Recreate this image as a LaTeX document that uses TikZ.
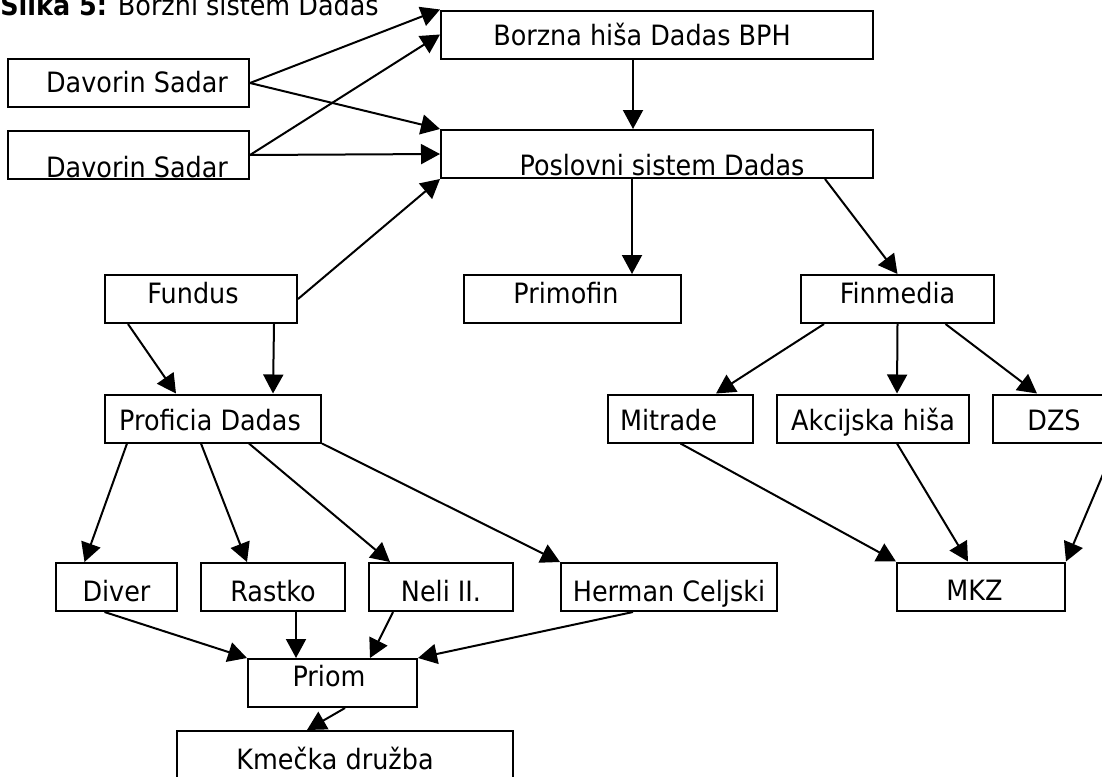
\documentclass[tikz,border=0pt]{standalone}
\usepackage{fontspec}
\setmainfont[FakeStretch=0.91]{DejaVu Sans}
\usepackage{tikz}
\usetikzlibrary{arrows.meta}
\tikzset{
  firm/.style={
    draw=black, line width=1pt,
    inner sep=0pt, minimum height=24pt,
    text height=10pt, text depth=0pt,
    font=\fontsize{14pt}{16pt}\selectfont,
  },
  own/.style={draw=black, line width=1pt, ->},
  tx/.style={execute at begin node={\hspace*{#1}}, execute at end node={\hspace*{-#1}}},
}

\begin{document}
\begin{tikzpicture}[x=0.5pt, y=-0.5pt, >={Triangle[length=9.5pt, width=10pt]}]
\useasboundingbox (0,0) rectangle (1102,776);

\node[anchor=base west, inner sep=0pt, font=\fontsize{14pt}{16pt}\selectfont] (title) at (0,15) {\textbf{Slika 5:} Borzni sistem Dadas};

% owners
\node[firm, minimum width=120.5pt, text height=9pt, tx=4.25pt] (sadarA) at (128.5,83) {Davorin Sadar};
\node[firm, minimum width=120.5pt, text height=22pt, tx=4.25pt] (sadarB) at (128.5,155) {Davorin Sadar};
\node[firm, minimum width=216pt, text height=11.5pt, tx=-7.5pt] (bph) at (657,34.5) {Borzna hiša Dadas BPH};
\node[firm, minimum width=216pt, text height=21.5pt, tx=2.5pt] (dadas) at (657,154) {Poslovni sistem Dadas};

% second level
\node[firm, minimum width=96pt, text height=4pt, tx=-4pt] (fundus) at (201,299) {Fundus};
\node[firm, minimum width=108.5pt, text height=4pt, tx=-3.25pt] (primofin) at (572.5,299) {Primofin};
\node[firm, minimum width=96.5pt, text height=4.5pt] (finmedia) at (897.5,299) {Finmedia};
\node[firm, minimum width=108pt, text height=11.5pt, tx=-1.5pt] (proficia) at (213,418.5) {Proficia Dadas};
\node[firm, minimum width=72.5pt, text height=12pt, tx=-6pt] (mitrade) at (680.5,418.5) {Mitrade};
\node[firm, minimum width=96pt, text height=12pt] (akcijska) at (873,418.5) {Akcijska hiša};
\node[firm, minimum width=61pt, text height=12pt] (dzs) at (1054,418.5) {DZS};

% funds
\node[firm, minimum width=60.5pt, text height=14pt] (diver) at (116.5,587) {Diver};
\node[firm, minimum width=72pt, text height=14pt] (rastko) at (273,587) {Rastko};
\node[firm, minimum width=72pt, text height=14pt] (neli) at (441,587) {Neli II.};
\node[firm, minimum width=108pt, text height=14pt] (herman) at (669,587) {Herman Celjski};
\node[firm, minimum width=84pt, text height=14pt, tx=-3.25pt] (mkz) at (981,586.5) {MKZ};
\node[firm, minimum width=84.5pt, text height=3pt, tx=-1.75pt] (priom) at (332.5,683) {Priom};
\node[firm, minimum width=168pt, text height=14pt, tx=-5pt] (kmecka) at (345,755) {Kmečka družba};

\draw[own] (sadarA.east) -- (bph.north west);
\draw[own] (sadarA.east) -- (dadas.north west);
\draw[own] (sadarB.east) -- (bph.west);
\draw[own] (sadarB.east) -- (dadas.west);
\draw[own] ([xshift=-12pt]bph.south) -- ([xshift=-12pt]dadas.north);
\draw[own] ([xshift=-12.5pt]dadas.south) -- ([xshift=29.75pt]primofin.north);
\draw[own] ([xshift=84pt]dadas.south) -- (finmedia.north);
\draw[own] (fundus.east) -- (dadas.south west);

\draw[own] ([xshift=12pt]fundus.south west) -- ([xshift=36pt]proficia.north west);
\draw[own] ([xshift=-12pt]fundus.south east) -- ([xshift=30pt]proficia.north);

\draw[own] ([xshift=12pt]finmedia.south west) -- ([xshift=17.75pt]mitrade.north);
\draw[own] (finmedia.south) -- ([xshift=12pt]akcijska.north);
\draw[own] ([xshift=24pt]finmedia.south) -- ([xshift=-8.5pt]dzs.north);
\draw[own] (mitrade.south) -- (mkz.north west);
\draw[own] ([xshift=12pt]akcijska.south) -- ([xshift=-6.5pt]mkz.north);
\draw[own] (dzs.south east) -- (mkz.north east);

\draw[own] ([xshift=11.5pt]proficia.south west) -- ([xshift=-16pt]diver.north);
\draw[own] ([xshift=-6pt]proficia.south) -- ([xshift=-13pt]rastko.north);
\draw[own] ([xshift=18pt]proficia.south) -- ([xshift=-25.5pt]neli.north);
\draw[own] (proficia.south east) -- (herman.north west);

\draw[own] ([xshift=-6pt]diver.south) -- (priom.north west);
\draw[own] ([xshift=11.5pt]rastko.south) -- ([xshift=-18.25pt]priom.north);
\draw[own] ([xshift=-24pt]neli.south) -- ([xshift=18.75pt]priom.north);
\draw[own] ([xshift=-18pt]herman.south) -- (priom.north east);
\draw[own] ([xshift=6.25pt]priom.south) -- ([xshift=-19pt]kmecka.north);

\end{tikzpicture}
\end{document}
